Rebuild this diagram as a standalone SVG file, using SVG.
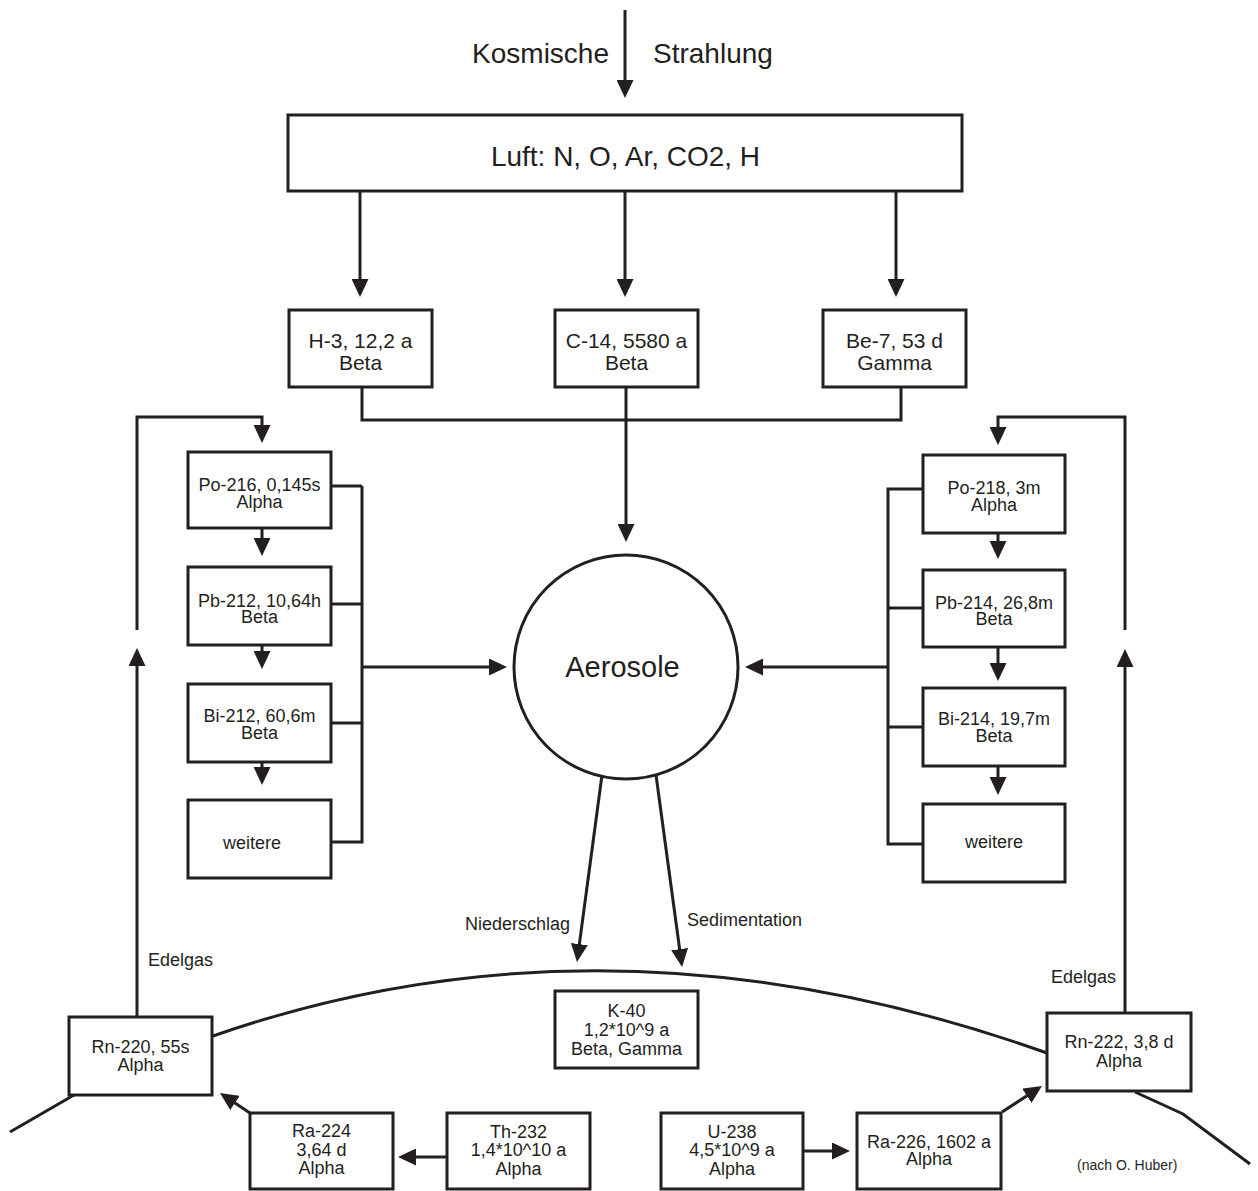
<svg xmlns="http://www.w3.org/2000/svg" width="1258" height="1191" viewBox="0 0 1258 1191">
<defs>
<style>
.bx{fill:#fff;stroke:#231f20;stroke-width:3}
.ln{fill:none;stroke:#231f20;stroke-width:3}
.ar{fill:none;stroke:#231f20;stroke-width:3;marker-end:url(#ah)}
text{font-family:"Liberation Sans",Arial,sans-serif;fill:#231f20}
.big{font-size:28px}
.mid{font-size:21px;text-anchor:middle}
.sm{font-size:18px;text-anchor:middle}
.lab{font-size:18px}
.note{font-size:14px}
</style>
<marker id="ah" viewBox="0 0 18 17" refX="14" refY="8.5" markerWidth="18" markerHeight="17" markerUnits="userSpaceOnUse" orient="auto"><path d="M0,0 L18,8.5 L0,17 z" fill="#231f20"/></marker>
</defs>
<rect width="1258" height="1191" fill="#fff"/>

<g id="connectors">
<line class="ar" x1="625" y1="10" x2="625" y2="94"/>
<line class="ar" x1="360" y1="191" x2="360" y2="293"/>
<line class="ar" x1="625" y1="191" x2="625" y2="293"/>
<line class="ar" x1="896" y1="191" x2="896" y2="293"/>
<polyline class="ln" points="362,387 362,420 901,420 901,387"/>
<line class="ar" x1="626" y1="387" x2="626" y2="538"/>
<!-- left column -->
<line class="ar" x1="262" y1="528" x2="262" y2="552"/>
<line class="ar" x1="262" y1="645" x2="262" y2="665"/>
<line class="ar" x1="262" y1="762" x2="262" y2="781"/>
<polyline class="ln" points="331,486 362,486"/>
<polyline class="ln" points="331,604 362,604"/>
<polyline class="ln" points="331,723 362,723"/>
<polyline class="ln" points="331,842 362,842 362,486"/>
<line class="ar" x1="362" y1="667" x2="503" y2="667"/>
<polyline class="ar" points="137,630 137,417 262,417 262,439"/>
<line class="ar" x1="137" y1="1017" x2="137" y2="652"/>
<!-- right column -->
<line class="ar" x1="998" y1="533" x2="998" y2="555"/>
<line class="ar" x1="998" y1="647" x2="998" y2="677"/>
<line class="ar" x1="998" y1="766" x2="998" y2="791"/>
<polyline class="ln" points="923,489 888,489 888,844 923,844"/>
<polyline class="ln" points="888,608 923,608"/>
<polyline class="ln" points="888,727 923,727"/>
<line class="ar" x1="888" y1="667" x2="749" y2="667"/>
<polyline class="ar" points="1125,630 1125,417 998,417 998,441"/>
<line class="ar" x1="1125" y1="1013" x2="1125" y2="653"/>
<!-- from aerosole -->
<line class="ar" x1="602" y1="775" x2="577.5" y2="958"/>
<line class="ar" x1="656" y1="775" x2="681.5" y2="963"/>
<!-- bottom -->
<line class="ar" x1="250" y1="1113" x2="223.3" y2="1095.2"/>
<line class="ar" x1="447" y1="1157" x2="402" y2="1157"/>
<line class="ar" x1="803" y1="1151" x2="846" y2="1151"/>
<line class="ar" x1="1002" y1="1112" x2="1038.6" y2="1088.2"/>
</g>

<g id="ground">
<path class="ln" d="M10,1132 L74,1095"/>
<path class="ln" d="M213,1036 Q610,897.5 1047,1053"/>
<path class="ln" d="M1135,1092 L1183,1114 L1250,1164"/>
</g>

<g id="labels">
<text class="big" x="609" y="63" text-anchor="end">Kosmische</text>
<text class="big" x="653" y="63">Strahlung</text>
<text class="lab" x="148" y="966">Edelgas</text>
<text class="lab" x="1051" y="983">Edelgas</text>
<text class="lab" x="465" y="930">Niederschlag</text>
<text class="lab" x="687" y="926">Sedimentation</text>
<text class="note" x="1077" y="1170">(nach O. Huber)</text>
</g>

<g id="luft"><rect class="bx" x="288" y="115" width="674" height="76"/><text class="big" x="625.5" y="166" text-anchor="middle">Luft: N, O, Ar, CO2, H</text></g>

<g id="h3"><rect class="bx" x="289" y="310" width="143" height="77"/><text class="mid" x="360.5" y="348">H-3, 12,2 a</text><text class="mid" x="360.5" y="370">Beta</text></g>
<g id="c14"><rect class="bx" x="555" y="310" width="143" height="77"/><text class="mid" x="626.5" y="348">C-14, 5580 a</text><text class="mid" x="626.5" y="370">Beta</text></g>
<g id="be7"><rect class="bx" x="823" y="310" width="143" height="77"/><text class="mid" x="894.5" y="348">Be-7, 53 d</text><text class="mid" x="894.5" y="370">Gamma</text></g>

<g id="aerosole"><circle class="bx" cx="626" cy="667" r="112"/><text x="622.5" y="677" font-size="29" text-anchor="middle">Aerosole</text></g>

<g id="po216"><rect class="bx" x="188" y="452" width="143" height="76"/><text class="sm" x="259.5" y="491">Po-216, 0,145s</text><text class="sm" x="259.5" y="508">Alpha</text></g>
<g id="pb212"><rect class="bx" x="188" y="567" width="143" height="78"/><text class="sm" x="259.5" y="607">Pb-212, 10,64h</text><text class="sm" x="259.5" y="623">Beta</text></g>
<g id="bi212"><rect class="bx" x="188" y="684" width="143" height="78"/><text class="sm" x="259.5" y="722">Bi-212, 60,6m</text><text class="sm" x="259.5" y="739">Beta</text></g>
<g id="weitere-l"><rect class="bx" x="188" y="800" width="143" height="78"/><text class="sm" x="252" y="849">weitere</text></g>

<g id="po218"><rect class="bx" x="923" y="455" width="142" height="78"/><text class="sm" x="994" y="494">Po-218, 3m</text><text class="sm" x="994" y="511">Alpha</text></g>
<g id="pb214"><rect class="bx" x="923" y="570" width="142" height="77"/><text class="sm" x="994" y="609">Pb-214, 26,8m</text><text class="sm" x="994" y="625">Beta</text></g>
<g id="bi214"><rect class="bx" x="923" y="688" width="142" height="78"/><text class="sm" x="994" y="725">Bi-214, 19,7m</text><text class="sm" x="994" y="742">Beta</text></g>
<g id="weitere-r"><rect class="bx" x="923" y="804" width="142" height="78"/><text class="sm" x="994" y="848">weitere</text></g>

<g id="rn220"><rect class="bx" x="69" y="1017" width="143" height="78"/><text class="sm" x="140.5" y="1053">Rn-220, 55s</text><text class="sm" x="140.5" y="1071">Alpha</text></g>
<g id="k40"><rect class="bx" x="555" y="991" width="143" height="77"/><text class="sm" x="626.5" y="1017">K-40</text><text class="sm" x="626.5" y="1036">1,2*10^9 a</text><text class="sm" x="626.5" y="1055">Beta, Gamma</text></g>
<g id="rn222"><rect class="bx" x="1047" y="1013" width="144" height="78"/><text class="sm" x="1119" y="1048">Rn-222, 3,8 d</text><text class="sm" x="1119" y="1067">Alpha</text></g>
<g id="ra224"><rect class="bx" x="250" y="1113" width="143" height="76"/><text class="sm" x="321.5" y="1137">Ra-224</text><text class="sm" x="321.5" y="1156">3,64 d</text><text class="sm" x="321.5" y="1174">Alpha</text></g>
<g id="th232"><rect class="bx" x="447" y="1113" width="143" height="76"/><text class="sm" x="518.5" y="1138">Th-232</text><text class="sm" x="518.5" y="1156">1,4*10^10 a</text><text class="sm" x="518.5" y="1175">Alpha</text></g>
<g id="u238"><rect class="bx" x="661" y="1113" width="142" height="76"/><text class="sm" x="732" y="1138">U-238</text><text class="sm" x="732" y="1156">4,5*10^9 a</text><text class="sm" x="732" y="1175">Alpha</text></g>
<g id="ra226"><rect class="bx" x="857" y="1113" width="144" height="76"/><text class="sm" x="929" y="1148">Ra-226, 1602 a</text><text class="sm" x="929" y="1165">Alpha</text></g>
</svg>
